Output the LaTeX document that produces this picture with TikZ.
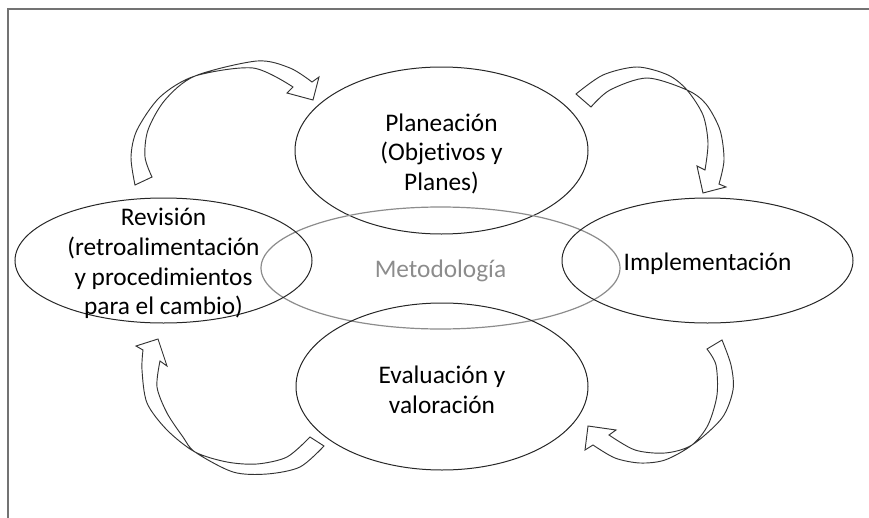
\documentclass[tikz,border=0pt]{standalone}
\usepackage{fontspec}
\setmainfont{Carlito}[Ligatures=NoCommon]
\usetikzlibrary{shapes.geometric}
\begin{document}
\begin{tikzpicture}[
    x=0.75pt, y=-0.75pt,
    blob/.style={ellipse, draw=black!85, line width=0.75pt},
    gblob/.style={ellipse, draw=black!45, line width=0.9pt},
    lbl/.style={align=center, font=\fontsize{19}{22.2}\selectfont, text=black, yshift=-2.4pt},
    glbl/.style={lbl, text=black!45},
    band/.style={draw=black!80, line width=0.7pt, line join=miter},
    frame/.style={draw=black!55, line width=1pt}]
    \useasboundingbox (0,0) rectangle (869,518);
    \draw[frame] (8,518) -- (8,9) -- (869,9);
    \node[blob, minimum width=219.75pt, minimum height=125.25pt] (plan) at (441.5,150.5) {};
    \node[gblob, minimum width=269.25pt, minimum height=91.5pt] (metod) at (440.5,268) {};
    \node[blob, minimum width=222.75pt, minimum height=93.75pt] (rev) at (163.5,260.5) {};
    \node[blob, minimum width=218.25pt, minimum height=93.75pt] (impl) at (707.5,260.5) {};
    \node[blob, minimum width=219pt, minimum height=125.25pt] (eval) at (442,386.5) {};
    \node[lbl] (planT) at (plan) {Planeación\\(Objetivos y\\Planes)};
    \node[glbl] (metodT) at (metod) {Metodología};
    \node[lbl] (revT) at (rev) {Revisión\\(retroalimentación\\y procedimientos\\para el cambio)};
    \node[lbl] (implT) at (impl) {Implementación};
    \node[lbl] (evalT) at (eval) {Evaluación y\\valoración};
    \draw[band] plot[smooth] coordinates {(135,185) (131,157) (137,130) (160,97) (195,76) (253,68) (293,87)}
        -- (287,93) -- (313,100) -- (319,77) -- (312,82)
        -- plot[smooth] coordinates {(312,82) (290,68) (257,61) (195,76) (165,100) (148,130) (145,157) (152,177)} -- cycle;
    \draw[band] plot[smooth] coordinates {(576,94) (603,75) (637,67) (668,75) (687,90) (703,115) (708,143) (705,170)}
        -- (697,166) -- (703,193) -- (726,187) -- (719,184)
        -- plot[smooth] coordinates {(719,184) (724,160) (720,130) (706,104) (687,90) (647,78) (610,90) (591,107)} -- cycle;
    \draw[band] plot[smooth] coordinates {(722,340) (731,365) (733,390) (722,418) (692,445) (665,453) (635,450) (609,435)}
        -- (616,430) -- (588,426) -- (585,450) -- (593,445)
        -- plot[smooth] coordinates {(593,445) (615,458) (640,463) (665,460) (692,445) (708,425) (717,395) (716,365) (707,349)} -- cycle;
    \draw[band] plot[smooth] coordinates {(310,437) (287,457) (257,464) (227,462) (195,452) (167,430) (147,403) (142,370) (143,350)}
        -- (136,346) -- (158,339) -- (167,366) -- (160,361)
        -- plot[smooth] coordinates {(160,361) (157,387) (167,413) (183,437) (195,452) (233,472) (267,474) (300,467) (324,446)} -- cycle;
\end{tikzpicture}
\end{document}
